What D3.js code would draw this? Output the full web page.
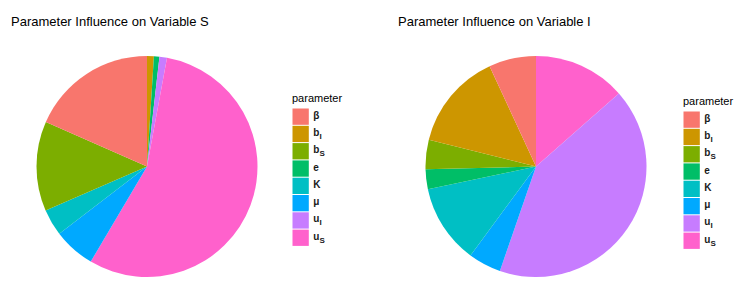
<!DOCTYPE html>
<html>
	<head>
		<title></title>
		<script src="https://cdn.jsdelivr.net/npm/d3@7"></script>
		<style>
			body { margin: 0; background: #fff; }
		</style>
	</head>
	<body>
		<script>
			var w = 745, h = 292;

			// legend order (factor levels)
			var params = ['beta', 'bI', 'bS', 'e', 'K', 'mu', 'uI', 'uS'];
			var colors = ['#F8766D', '#CD9600', '#7CAE00', '#00BE67', '#00BFC4', '#00A9FF', '#C77CFF', '#FF61CC'];

			// share of each parameter (percent)
			var valuesS = [18.4, 1.0, 13.1, 0.8, 3.9, 6.1, 1.1, 55.6];
			var valuesI = [6.9, 14.2, 4.3, 2.9, 11.6, 4.8, 41.8, 13.5];

			// clockwise order of the slices from 12 o'clock
			var orderS = ['bI', 'e', 'uI', 'uS', 'mu', 'K', 'bS', 'beta'];
			var orderI = ['uS', 'uI', 'mu', 'K', 'e', 'bS', 'bI', 'beta'];

			var titles = ['Parameter Influence on Variable S', 'Parameter Influence on Variable I'];

			var color = d3.scaleOrdinal().domain(params).range(colors);

			var svg = d3.select('body')
						.append('svg')
						.attr('width', w)
						.attr('height', h)
						.style('font-family', 'Liberation Sans, Arial, sans-serif');

			var panels = [
				{title: titles[0], values: valuesS, order: orderS, tx: 11, cx: 147, cy: 166.5, r: 110.5, lx: 292, ly: 102},
				{title: titles[1], values: valuesI, order: orderI, tx: 398, cx: 536, cy: 166.5, r: 110.5, lx: 683, ly: 105}
			];

			function label(g, p) {
				// plotmath style labels with subscripts
				var t = g.append('text')
					.attr('font-size', 10)
					.attr('font-weight', 'bold')
					.attr('fill', '#1a1a1a');
				if (p == 'beta') t.text('β');
				else if (p == 'mu') t.text('μ');
				else if (p == 'e' || p == 'K') t.text(p);
				else {
					t.append('tspan').text(p[0]);
					t.append('tspan').attr('font-size', 8).attr('dy', 3).text(p[1]);
				}
				return t;
			}

			panels.forEach(function(pn) {
				svg.append('text')
					.attr('x', pn.tx)
					.attr('y', 26)
					.attr('font-size', 13)
					.attr('fill', '#000')
					.text(pn.title);

				var data = pn.order.map(function(p) {
					return {p: p, v: pn.values[params.indexOf(p)]};
				});

				var pie = d3.pie()
					.sort(null)
					.value(function(d) { return d.v; });

				var arc = d3.arc()
					.innerRadius(0)
					.outerRadius(pn.r);

				var g = svg.append('g')
					.attr('transform', 'translate(' + pn.cx + ',' + pn.cy + ')');

				g.selectAll('path')
					.data(pie(data))
					.enter()
					.append('path')
					.attr('d', arc)
					.attr('fill', function(d) { return color(d.data.p); });

				// legend
				var lg = svg.append('g')
					.attr('transform', 'translate(' + pn.lx + ',' + pn.ly + ')');

				lg.append('text')
					.attr('x', 0)
					.attr('y', 0)
					.attr('font-size', 11)
					.attr('fill', '#000')
					.text('parameter');

				var keyH = 17.3;
				var y = d3.scaleBand().domain(params).range([6, 6 + keyH * params.length]);

				var items = lg.selectAll('g.key')
					.data(params)
					.enter()
					.append('g')
					.attr('class', 'key')
					.attr('transform', function(d) { return 'translate(0,' + y(d) + ')'; });

				items.append('rect')
					.attr('x', 0.5)
					.attr('y', 0.5)
					.attr('width', keyH - 1)
					.attr('height', keyH - 1)
					.attr('fill', function(d) { return color(d); });

				items.each(function(d) {
					label(d3.select(this), d)
						.attr('x', keyH + 4)
						.attr('y', keyH / 2 + 2);
				});
			});
		</script>
	</body>
</html>
